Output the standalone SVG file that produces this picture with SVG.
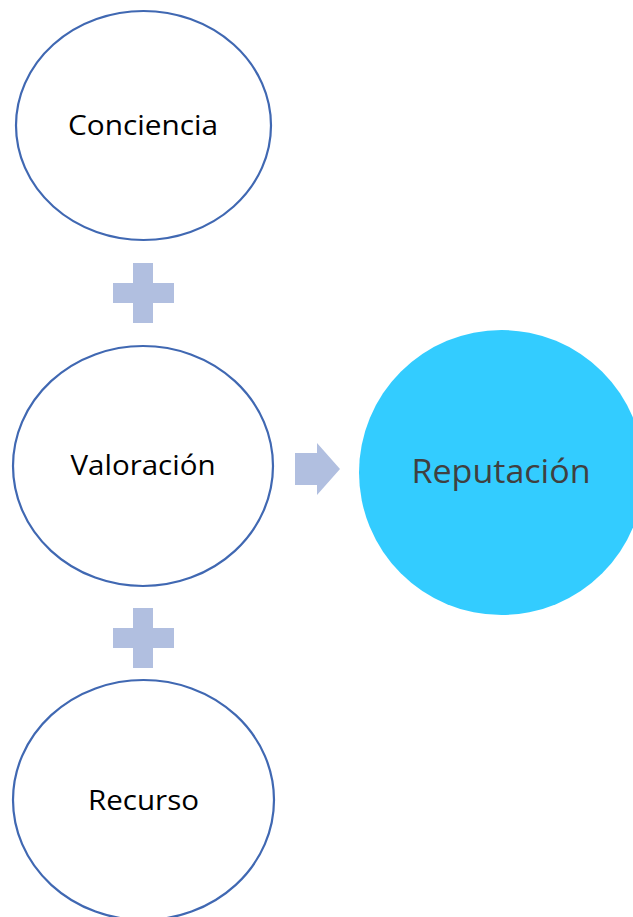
<svg xmlns="http://www.w3.org/2000/svg" width="633" height="917" viewBox="0 0 633 917">
<style>
.node{fill:#FFFFFF;stroke:#4068B2;stroke-width:2.2}
.lbl{font-family:"Open Sans","Liberation Sans",sans-serif;font-size:28px;fill:#000000;text-anchor:middle}
.conn{fill:#B1BFE0}
</style>
<rect width="633" height="917" fill="#FFFFFF"/>
<g id="connectors">
<path class="conn" d="M133,263 H153 V283 H174 V303 H153 V323 H133 V303 H113 V283 H133 Z"/>
<path class="conn" d="M133,608 H153 V628 H174 V648 H153 V668 H133 V648 H113 V628 H133 Z"/>
<path class="conn" d="M295,453 H317 V443 L340,469 L317,495 V485 H295 Z"/>
</g>
<g id="conciencia">
<ellipse class="node" cx="143.5" cy="125.5" rx="127.5" ry="114.5"/>
<text class="lbl" x="143" y="135" textLength="150" lengthAdjust="spacingAndGlyphs">Conciencia</text>
</g>
<g id="valoracion">
<ellipse class="node" cx="143" cy="466" rx="130" ry="120"/>
<text class="lbl" x="143" y="475" textLength="145" lengthAdjust="spacingAndGlyphs">Valoración</text>
</g>
<g id="recurso">
<ellipse class="node" cx="143.5" cy="800" rx="130.5" ry="120"/>
<text class="lbl" x="143.5" y="810" textLength="111" lengthAdjust="spacingAndGlyphs">Recurso</text>
</g>
<g id="reputacion">
<circle cx="501.5" cy="472.5" r="142.5" fill="#33CCFF"/>
<text x="501" y="483" font-family="'Open Sans','Liberation Sans',sans-serif" font-size="33" fill="#404040" text-anchor="middle" textLength="179" lengthAdjust="spacingAndGlyphs">Reputación</text>
</g>
</svg>
